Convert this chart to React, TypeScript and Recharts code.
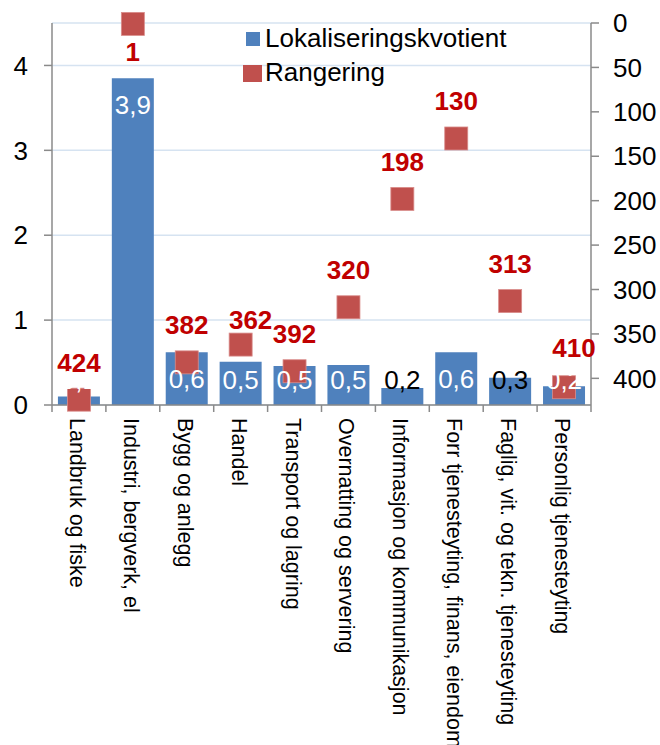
import React from 'react';
import { ComposedChart, Bar, Line, XAxis, YAxis, CartesianGrid, LabelList, Legend } from 'recharts';

const categories = [
  'Landbruk og fiske',
  'Industri, bergverk, el',
  'Bygg og anlegg',
  'Handel',
  'Transport og lagring',
  'Overnatting og servering',
  'Informasjon og kommunikasjon',
  'Forr tjenesteyting, finans, eiendom',
  'Faglig, vit. og tekn. tjenesteyting',
  'Personlig tjenesteyting',
];
const kvotient = [0.1, 3.85, 0.62, 0.51, 0.46, 0.47, 0.2, 0.62, 0.32, 0.22];
const rangering = [424, 1, 382, 362, 392, 320, 198, 130, 313, 410];
const leftTicks = [0, 1, 2, 3, 4];
const rightTicks = [0, 50, 100, 150, 200, 250, 300, 350, 400];

const data = categories.map((name, i) => ({ name, kvotient: kvotient[i], rangering: rangering[i] }));

const FONT = '"Liberation Sans", Arial, sans-serif';
const BLUE = '#4F81BD';
const RED = '#C0504D';
const LABEL_RED = '#C00000';
const AXIS = '#8a8a8a';
const W = 660;
const H = 745;
const LEFT_W = 52;
const RIGHT_W = 69;
const BAND = (W - LEFT_W - RIGHT_W) / categories.length;

// black value labels where Excel put them outside the bar
const darkLabels = new Set([6, 8]);
// manual nudges of rank labels [dx, dy]
const rankNudge: Record<number, [number, number]> = { 1: [0, 28], 3: [10, -25], 9: [10, -39] };

const fmt = (v: number) => v.toFixed(1).replace('.', ',');

const XTick = (props: any) => {
  const { x, y, payload, index } = props;
  const last = index === categories.length - 1;
  return (
    <g>
      <line x1={x - BAND / 2} x2={x - BAND / 2} y1={y} y2={y + 7} stroke={AXIS} strokeWidth={1.5} />
      {last && <line x1={x + BAND / 2} x2={x + BAND / 2} y1={y} y2={y + 7} stroke={AXIS} strokeWidth={1.5} />}
      <text
        transform={`translate(${x - 2},${y + 13}) rotate(90)`}
        fontSize={21.5}
        fontFamily={FONT}
        fill="#000"
        textAnchor="start"
        dominantBaseline="central"
      >
        {payload.value}
      </text>
    </g>
  );
};

const BarValue = (props: any) => {
  const { x, y, width, height, value, index } = props;
  const bottom = y + height;
  const cy = Math.min(y + 27, bottom - 25);
  return (
    <text
      x={x + width / 2}
      y={cy}
      textAnchor="middle"
      dominantBaseline="central"
      fontSize={26}
      fontFamily={FONT}
      fill={darkLabels.has(index) ? '#000' : '#fff'}
    >
      {fmt(value)}
    </text>
  );
};

const RankDot = (props: any) => {
  const { cx, cy, index, payload } = props;
  const [dx, dy] = rankNudge[index] || [0, -37];
  return (
    <g key={`rank-${index}`}>
      <rect x={cx - 11.5} y={cy - 11.5} width={23} height={23} fill={RED} stroke="#d98c8a" strokeWidth={0.8} />
      <text
        x={cx + dx}
        y={cy + dy}
        textAnchor="middle"
        dominantBaseline="central"
        fontSize={26}
        fontWeight="bold"
        fontFamily={FONT}
        fill={LABEL_RED}
      >
        {payload.rangering}
      </text>
    </g>
  );
};

const LegendBox = () => (
  <div style={{ position: 'relative', width: 300, height: 70, fontFamily: FONT, fontSize: 26, color: '#000' }}>
    <div style={{ position: 'absolute', left: 3, top: 10, width: 14, height: 14, background: BLUE }} />
    <div style={{ position: 'absolute', left: 22, top: 0, lineHeight: '32px', whiteSpace: 'nowrap' }}>Lokaliseringskvotient</div>
    <div style={{ position: 'absolute', left: 0, top: 43, width: 19, height: 17, background: RED }} />
    <div style={{ position: 'absolute', left: 22, top: 34, lineHeight: '32px', whiteSpace: 'nowrap' }}>Rangering</div>
  </div>
);

export default function App() {
  return (
    <div style={{ position: 'absolute', left: 0, top: 0, width: W, height: H, background: '#fff' }}>
      <ComposedChart
        width={W}
        height={H}
        data={data}
        margin={{ top: 23, right: 0, bottom: 0, left: 0 }}
        barCategoryGap="11%"
      >
        <CartesianGrid yAxisId="left" vertical={false} stroke="#D6E3F1" strokeWidth={1.5} />
        <XAxis
          dataKey="name"
          interval={0}
          height={H - 23 - 382}
          axisLine={{ stroke: AXIS, strokeWidth: 1.5 }}
          tickLine={false}
          tickSize={0}
          tickMargin={0}
          tick={<XTick />}
        />
        <YAxis
          yAxisId="left"
          width={LEFT_W}
          domain={[0, 4.5]}
          ticks={leftTicks}
          axisLine={{ stroke: AXIS, strokeWidth: 1.5 }}
          tickLine={{ stroke: AXIS, strokeWidth: 1.5 }}
          tickSize={8}
          tickMargin={16}
          tick={{ fontSize: 26, fontFamily: FONT, fill: '#000' }}
        />
        <YAxis
          yAxisId="right"
          orientation="right"
          width={RIGHT_W}
          reversed
          domain={[0, 430]}
          ticks={rightTicks}
          axisLine={{ stroke: AXIS, strokeWidth: 1.5 }}
          tickLine={{ stroke: AXIS, strokeWidth: 1.5 }}
          tickSize={8}
          tickMargin={14}
          tick={{ fontSize: 26, fontFamily: FONT, fill: '#000', textAnchor: 'start' }}
        />
        <Legend
          layout="vertical"
          align="center"
          verticalAlign="middle"
          content={<LegendBox />}
          wrapperStyle={{ left: 243, top: 22, width: 300, height: 70 }}
        />
        <Bar yAxisId="left" dataKey="kvotient" fill={BLUE} isAnimationActive={false}>
          <LabelList dataKey="kvotient" content={<BarValue />} />
        </Bar>
        <Line
          yAxisId="right"
          dataKey="rangering"
          stroke="none"
          dot={<RankDot />}
          activeDot={false}
          isAnimationActive={false}
        />
      </ComposedChart>
    </div>
  );
}
